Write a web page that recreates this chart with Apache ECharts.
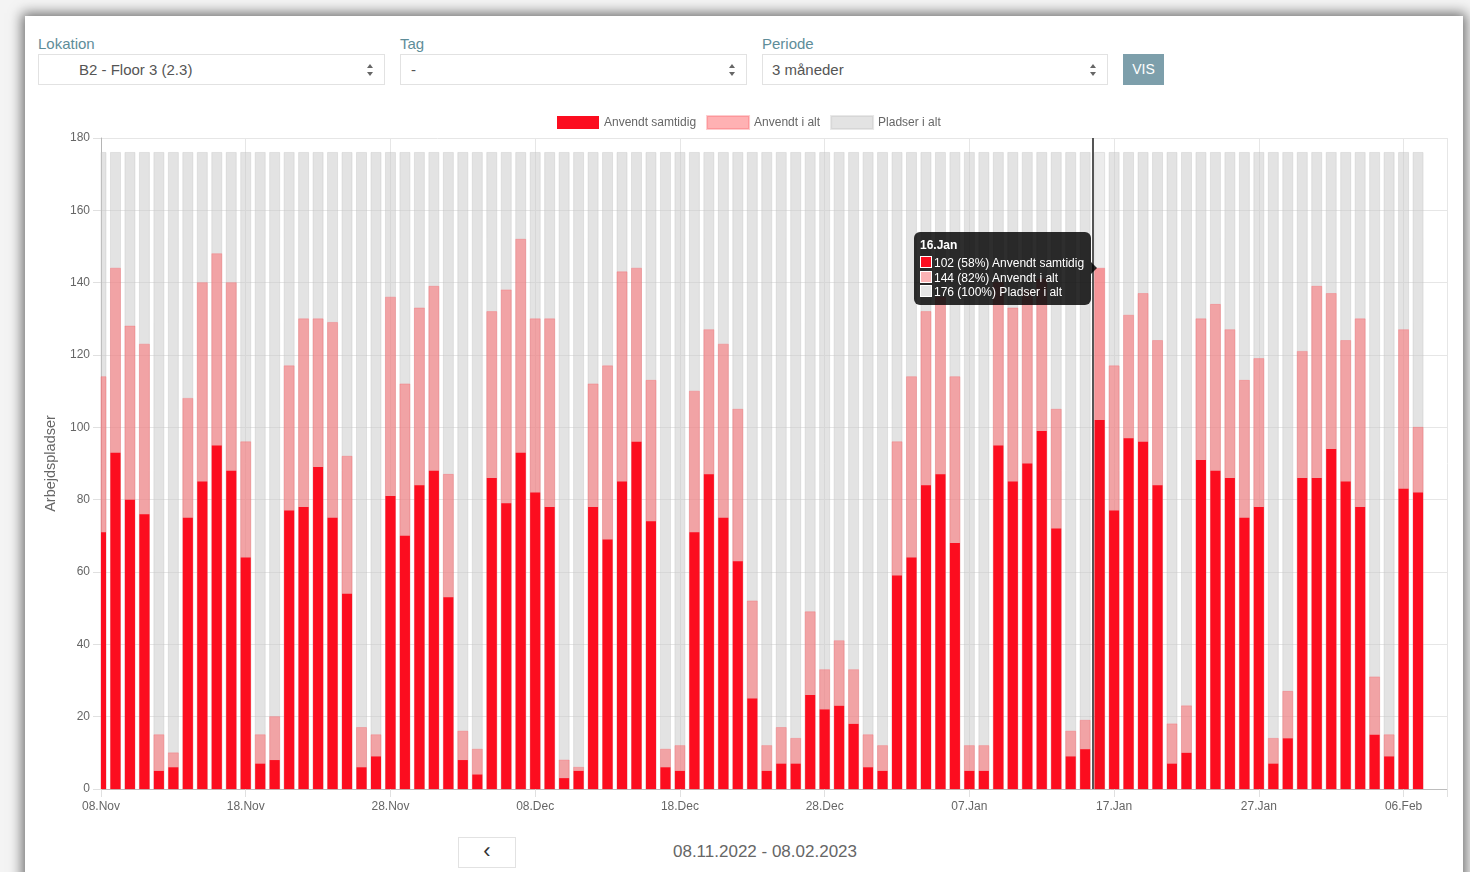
<!DOCTYPE html>
<html>
<head>
<meta charset="utf-8">
<title>Belægning</title>
<script src="https://cdn.jsdelivr.net/npm/echarts@6/dist/echarts.min.js"></script>
<style>
    body { margin: 0; width: 1470px; height: 872px; overflow: hidden; background: #f4f4f4; font-family: "Liberation Sans", Arial, sans-serif; }
    .frame { position: absolute; left: 25px; top: 16px; width: 1438px; height: 900px; background: #fff; box-shadow: 0 0 12px 3px rgba(0,0,0,0.55); }
    .lbl { position: absolute; top: 35px; font-size: 15px; color: #5e8d99; }
    .sel { position: absolute; top: 54px; height: 31px; border: 1px solid #e2e2e2; box-sizing: border-box; font-size: 15px; color: #555; line-height: 29px; background: #fff; }
    .sel .arr { position: absolute; right: 10px; top: 9px; width: 7px; height: 12px; }
    .sel .arr:before, .sel .arr:after { content: ""; position: absolute; left: 0; border-left: 3.5px solid transparent; border-right: 3.5px solid transparent; }
    .sel .arr:before { top: 0; border-bottom: 4px solid #666; }
    .sel .arr:after { bottom: 0; border-top: 4px solid #666; }
    .btn { position: absolute; left: 1123px; top: 54px; width: 41px; height: 31px; background: #7d9fab; color: #fff; font-size: 14px; text-align: center; line-height: 31px; }
    #chart { position: absolute; left: 30px; top: 100px; width: 1430px; height: 725px; }
    .prev { position: absolute; left: 458px; top: 837px; width: 58px; height: 31px; border: 1px solid #e2e2e2; box-sizing: border-box; background: #fff; text-align: center; font-size: 22px; line-height: 26px; color: #333; }
    .range { position: absolute; left: 600px; width: 330px; top: 842px; text-align: center; font-size: 17px; color: #666; }
</style>
</head>
<body>
<div class="frame"></div>
<div class="lbl" style="left:38px">Lokation</div>
<div class="sel" style="left:38px;width:347px;padding-left:40px">B2 - Floor 3 (2.3)<span class="arr"></span></div>
<div class="lbl" style="left:400px">Tag</div>
<div class="sel" style="left:400px;width:347px;padding-left:10px">-<span class="arr"></span></div>
<div class="lbl" style="left:762px">Periode</div>
<div class="sel" style="left:762px;width:346px;padding-left:9px">3 måneder<span class="arr"></span></div>
<div class="btn">VIS</div>
<div id="chart"></div>
<div class="prev">&#8249;</div>
<div class="range">08.11.2022 - 08.02.2023</div>
<script>
// one bar per day, 08.Nov 2022 .. 07.Feb 2023
const startDate = new Date(2022, 10, 8);
const monthNames = ['Jan', 'Feb', 'Mar', 'Apr', 'May', 'Jun', 'Jul', 'Aug', 'Sep', 'Oct', 'Nov', 'Dec'];
const tickLabels = ['08.Nov', '18.Nov', '28.Nov', '08.Dec', '18.Dec', '28.Dec', '07.Jan', '17.Jan', '27.Jan', '06.Feb'];

const usedAtOnce = [
    71, 93, 80, 76, 5, 6, 75, 85, 95, 88,
    64, 7, 8, 77, 78, 89, 75, 54, 6, 9,
    81, 70, 84, 88, 53, 8, 4, 86, 79, 93,
    82, 78, 3, 5, 78, 69, 85, 96, 74, 6,
    5, 71, 87, 75, 63, 25, 5, 7, 7, 26,
    22, 23, 18, 6, 5, 59, 64, 84, 87, 68,
    5, 5, 95, 85, 90, 99, 72, 9, 11, 102,
    77, 97, 96, 84, 7, 10, 91, 88, 86, 75,
    78, 7, 14, 86, 86, 94, 85, 78, 15, 9,
    83, 82
];
const usedTotal = [
    114, 144, 128, 123, 15, 10, 108, 140, 148, 140,
    96, 15, 20, 117, 130, 130, 129, 92, 17, 15,
    136, 112, 133, 139, 87, 16, 11, 132, 138, 152,
    130, 130, 8, 6, 112, 117, 143, 144, 113, 11,
    12, 110, 127, 123, 105, 52, 12, 17, 14, 49,
    33, 41, 33, 15, 12, 96, 114, 132, 136, 114,
    12, 12, 140, 133, 138, 141, 105, 16, 19, 144,
    117, 131, 137, 124, 18, 23, 130, 134, 127, 113,
    119, 14, 27, 121, 139, 137, 124, 130, 31, 15,
    127, 100
];
const seatsTotal = usedTotal.map(() => 176);

// the day the mouse is resting on in the screenshot (16.Jan)
const hoverIndex = 69;
const barWidth = 10;

const dayLabel = (i) => {
    const d = new Date(startDate.getFullYear(), startDate.getMonth(), startDate.getDate() + i);
    return String(d.getDate()).padStart(2, '0') + '.' + monthNames[d.getMonth()];
};
const toPoints = (arr) => arr.map((v, i) => [i, v]);

// bars are centered on the day, the first one is cut by the y axis
const makeBarRenderer = (hoverFill) => (params, api) => {
    const day = api.value(0);
    const top = api.coord([day, api.value(1)]);
    const base = api.coord([day, 0]);
    const cs = params.coordSys;
    const shape = echarts.graphic.clipRectByRect(
        { x: top[0] - barWidth / 2, y: top[1], width: barWidth, height: base[1] - top[1] },
        { x: cs.x, y: cs.y, width: cs.width, height: cs.height }
    );
    if (!shape) return;
    const style = params.dataIndex === hoverIndex && hoverFill ? api.style({ fill: hoverFill }) : api.style();
    return { type: 'rect', shape: shape, style: style };
};

const myChart = echarts.init(document.getElementById('chart'));

const barDefaults = {
    type: 'custom',
    encode: { x: 0, y: 1 },
    animation: false,
    silent: true
};

const option = {
    textStyle: { fontFamily: '"Liberation Sans", Arial, sans-serif' },
    legend: {
        left: 522,
        top: 10,
        itemWidth: 42,
        itemHeight: 13,
        itemGap: 10,
        icon: 'rect',
        selectedMode: false,
        textStyle: { fontSize: 12, color: '#666' },
        data: ['Anvendt samtidig', 'Anvendt i alt', 'Pladser i alt']
    },
    tooltip: {
        trigger: 'axis',
        alwaysShowContent: true,
        transitionDuration: 0,
        backgroundColor: 'rgba(0,0,0,0.82)',
        borderWidth: 0,
        padding: [6, 7, 5, 6],
        extraCssText: 'border-radius:6px;box-shadow:none;overflow:visible;',
        textStyle: { color: '#fff', fontSize: 12 },
        axisPointer: { type: 'none' },
        position: (point, params, dom, rect, size) =>
            [point[0] - size.contentSize[0] - 2, point[1] - size.contentSize[1] / 2],
        formatter: (params) => {
            const swatches = ['#e4e4e4', '#fbb3b4', '#fc0d1f'];
            const rows = params.slice().reverse().map(p => {
                const pct = Math.round(p.value[1] / seatsTotal[p.dataIndex] * 100);
                return '<div style="line-height:14.5px;white-space:nowrap">' +
                    '<span style="display:inline-block;width:10px;height:10px;margin-right:2px;vertical-align:-1px;background:' + swatches[p.seriesIndex] + ';border:1px solid #fff"></span>' +
                    p.value[1] + ' (' + pct + '%) ' + p.seriesName + '</div>';
            }).join('');
            return '<div style="font-weight:bold;line-height:15px;margin-bottom:3px">' + dayLabel(params[0].dataIndex) + '</div>' + rows +
                '<div style="position:absolute;right:-6px;top:50%;margin-top:-6px;width:0;height:0;border-top:6px solid transparent;border-bottom:6px solid transparent;border-left:6px solid rgba(0,0,0,0.82)"></div>';
        }
    },
    grid: {
        left: 71,
        top: 38,
        width: 1346,
        height: 651
    },
    xAxis: {
        type: 'value',
        min: 0,
        max: 93,
        interval: 10,
        axisLine: { show: true, lineStyle: { color: '#bdbdbd' } },
        axisTick: { show: true, length: 8, lineStyle: { color: '#e0e0e0' } },
        axisLabel: {
            fontSize: 12,
            color: '#666',
            margin: 12,
            formatter: (v) => v % 10 === 0 ? tickLabels[v / 10] : ''
        },
        splitLine: { show: true, lineStyle: { color: '#e6e6e6' } }
    },
    yAxis: {
        type: 'value',
        min: 0,
        max: 180,
        interval: 20,
        name: 'Arbejdspladser',
        nameLocation: 'middle',
        nameGap: 43,
        nameTextStyle: { fontSize: 14.5, color: '#666' },
        axisLine: { show: true, lineStyle: { color: '#b5b5b5' } },
        axisTick: { show: true, length: 8, lineStyle: { color: '#e0e0e0' } },
        axisLabel: { fontSize: 12, color: '#666', margin: 11 },
        splitLine: { show: true, lineStyle: { color: '#e6e6e6' } }
    },
    series: [
        {
            ...barDefaults,
            name: 'Pladser i alt',
            data: toPoints(seatsTotal),
            renderItem: makeBarRenderer(null),
            itemStyle: { color: 'rgba(199,199,199,0.5)', borderColor: 'rgba(190,190,190,0.35)', borderWidth: 1 }
        },
        {
            ...barDefaults,
            name: 'Anvendt i alt',
            data: toPoints(usedTotal),
            renderItem: makeBarRenderer('rgba(250,60,66,0.5)'),
            itemStyle: { color: 'rgba(255,100,104,0.5)', borderColor: 'rgba(250,90,95,0.3)', borderWidth: 1 }
        },
        {
            ...barDefaults,
            name: 'Anvendt samtidig',
            data: toPoints(usedAtOnce),
            renderItem: makeBarRenderer('#e10c1c'),
            itemStyle: { color: '#fc0d1f' },
            markLine: {
                silent: true,
                symbol: 'none',
                animation: false,
                label: { show: false },
                lineStyle: { color: '#555', width: 2, type: 'solid' },
                data: [{ xAxis: hoverIndex - 0.5 }]
            }
        }
    ]
};

myChart.setOption(option);

// reproduce the hovered state on 16.Jan, just left of the bar
const [px, py] = myChart.convertToPixel({ xAxisIndex: 0, yAxisIndex: 0 }, [hoverIndex - 0.45, usedTotal[hoverIndex]]);
myChart.dispatchAction({ type: 'showTip', x: px, y: py });

window.onresize = function () {
    myChart.resize();
};
</script>
</body>
</html>
